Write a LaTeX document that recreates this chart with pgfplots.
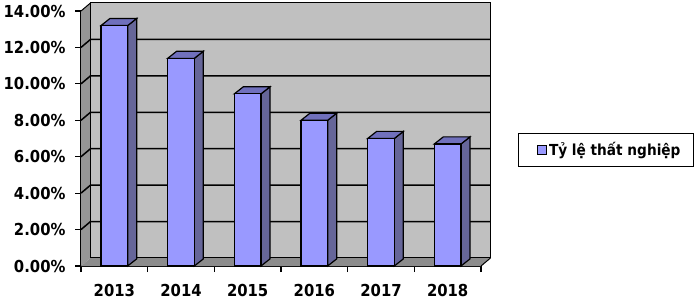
\documentclass[border=0pt]{standalone}
\usepackage{fontspec}
\setmainfont{DejaVu Sans Condensed}
\usepackage{pgfplots}
\pgfplotsset{compat=1.18}
\definecolor{barfront}{HTML}{9999FF}
\definecolor{barside}{HTML}{666699}
\definecolor{bartop}{HTML}{7070BC}
\definecolor{backwall}{HTML}{C0C0C0}
\definecolor{sidewall}{HTML}{969696}
\definecolor{floorc}{HTML}{8C8C8C}
\begin{document}
\begin{tikzpicture}
\path[use as bounding box] (0,0) rectangle (700pt,300pt);
\begin{axis}[
  at={(81pt,34pt)}, anchor=south west,
  scale only axis, width=400pt, height=255pt,
  xmin=-0.5, xmax=5.5, ymin=0, ymax=14,
  clip=false,
  axis x line*=bottom, axis y line*=left,
  axis line style={line width=1.2pt, black},
  tick align=outside,
  major tick length=6pt,
  tick style={line width=1.2pt, black},
  xtick={-0.5,0.5,1.5,2.5,3.5,4.5,5.5},
  xticklabels={},
  extra x ticks={0,1,2,3,4,5},
  extra x tick labels={2013,2014,2015,2016,2017,2018},
  extra x tick style={major tick length=0pt},
  ytick={0,2,4,6,8,10,12,14},
  yticklabels={0.00\%,2.00\%,4.00\%,6.00\%,8.00\%,10.00\%,12.00\%,14.00\%},
  tick label style={font=\bfseries\fontsize{16.5}{19}\selectfont},
  xticklabel style={yshift=-15pt},
  yticklabel style={xshift=-6pt},
  legend style={at={(1.0925,0.455)}, anchor=west, draw=black, line width=1pt,
    inner xsep=11pt, inner ysep=7pt, nodes={inner xsep=2pt, inner ysep=2pt},
    font=\bfseries\fontsize{15.2}{18}\selectfont},
]
% walls
\fill[sidewall] (axis cs:-0.5,0) -- (axis cs:-0.5,14) -- (axis cs:-0.3575,14.44) -- (axis cs:-0.3575,0.44) -- cycle;
\fill[floorc] (axis cs:-0.5,0) -- (axis cs:5.5,0) -- (axis cs:5.6425,0.44) -- (axis cs:-0.3575,0.44) -- cycle;
\filldraw[fill=backwall, draw=black, line width=1pt] (axis cs:-0.3575,0.44) rectangle (axis cs:5.6425,14.44);
\draw[line width=1pt] (axis cs:-0.5,14) -- (axis cs:-0.3575,14.44);
\draw[line width=1pt] (axis cs:5.5,0) -- (axis cs:5.6425,0.44);
\pgfplotsinvokeforeach{2,4,6,8,10,12}{
  \draw[line width=1.5pt] (axis cs:-0.5,#1) -- (axis cs:-0.3575,#1+0.44) -- (axis cs:5.6425,#1+0.44);
}
% side faces
\addplot[fill=barside, draw=black, line width=1.2pt, forget plot] coordinates {(0.2,0)(0.2,13.2)(0.335,13.59)(0.335,0.39)} -- cycle;
\addplot[fill=barside, draw=black, line width=1.2pt, forget plot] coordinates {(1.2,0)(1.2,11.4)(1.335,11.79)(1.335,0.39)} -- cycle;
\addplot[fill=barside, draw=black, line width=1.2pt, forget plot] coordinates {(2.2,0)(2.2,9.45)(2.335,9.84)(2.335,0.39)} -- cycle;
\addplot[fill=barside, draw=black, line width=1.2pt, forget plot] coordinates {(3.2,0)(3.2,8.0)(3.335,8.39)(3.335,0.39)} -- cycle;
\addplot[fill=barside, draw=black, line width=1.2pt, forget plot] coordinates {(4.2,0)(4.2,7.0)(4.335,7.39)(4.335,0.39)} -- cycle;
\addplot[fill=barside, draw=black, line width=1.2pt, forget plot] coordinates {(5.2,0)(5.2,6.7)(5.335,7.09)(5.335,0.39)} -- cycle;
% top faces
\addplot[fill=bartop, draw=black, line width=1.2pt, forget plot] coordinates {(-0.2,13.2)(0.2,13.2)(0.335,13.59)(-0.065,13.59)} -- cycle;
\addplot[fill=bartop, draw=black, line width=1.2pt, forget plot] coordinates {(0.8,11.4)(1.2,11.4)(1.335,11.79)(0.935,11.79)} -- cycle;
\addplot[fill=bartop, draw=black, line width=1.2pt, forget plot] coordinates {(1.8,9.45)(2.2,9.45)(2.335,9.84)(1.935,9.84)} -- cycle;
\addplot[fill=bartop, draw=black, line width=1.2pt, forget plot] coordinates {(2.8,8.0)(3.2,8.0)(3.335,8.39)(2.935,8.39)} -- cycle;
\addplot[fill=bartop, draw=black, line width=1.2pt, forget plot] coordinates {(3.8,7.0)(4.2,7.0)(4.335,7.39)(3.935,7.39)} -- cycle;
\addplot[fill=bartop, draw=black, line width=1.2pt, forget plot] coordinates {(4.8,6.7)(5.2,6.7)(5.335,7.09)(4.935,7.09)} -- cycle;
% front faces
\addplot[ybar, bar width=0.4, fill=barfront, draw=black, line width=1.2pt,
  legend image code/.code={\path[draw=none, fill=none] (0pt,-5pt) rectangle (17pt,5pt);
    \draw[fill=barfront, line width=1pt] (8pt,-4.5pt) rectangle (17pt,4.5pt);}]
  coordinates {(0,13.2)(1,11.4)(2,9.45)(3,8.0)(4,7.0)(5,6.7)};
\addlegendentry{Tỷ lệ thất nghiệp}
\end{axis}
\end{tikzpicture}
\end{document}
